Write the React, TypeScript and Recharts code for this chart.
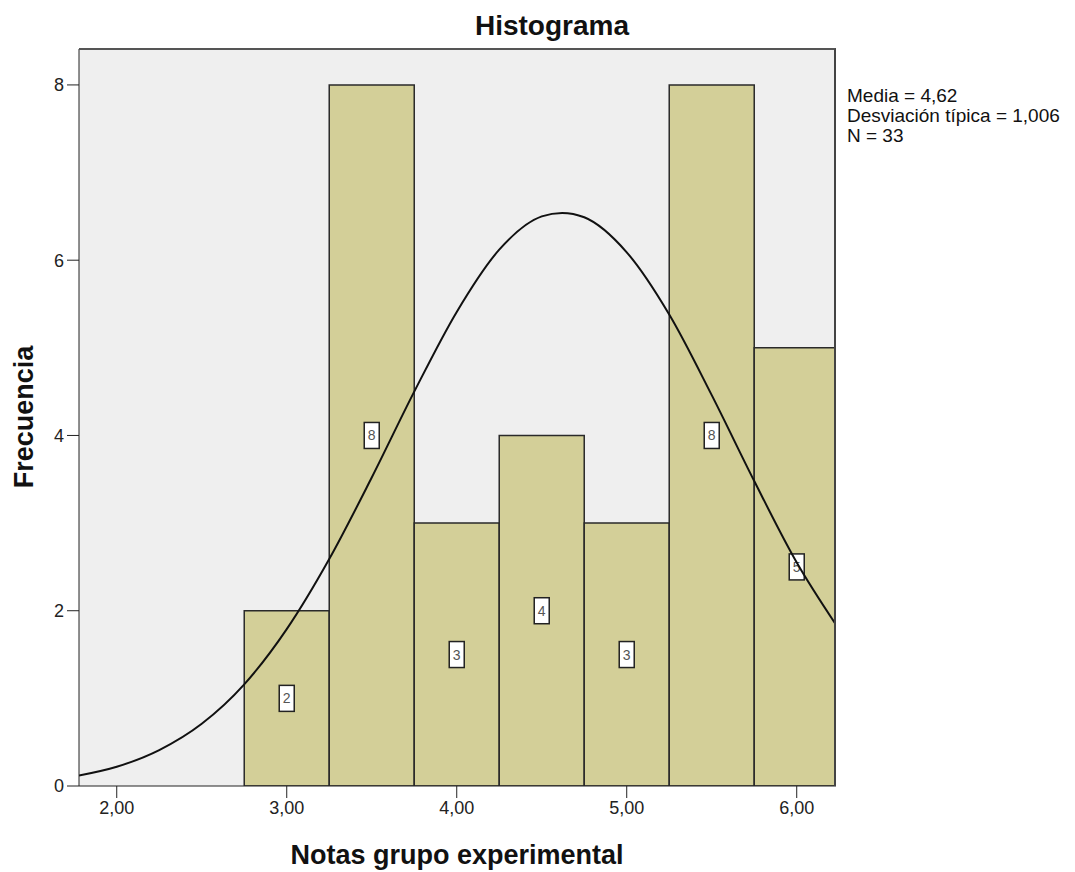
import { ComposedChart, XAxis, YAxis, CartesianGrid, Line, ReferenceArea } from "recharts";

// histogram bins (lower edge, upper edge, count)
const binStarts = [2.75, 3.25, 3.75, 4.25, 4.75, 5.25, 5.75];
const binEnds = [3.25, 3.75, 4.25, 4.75, 5.25, 5.75, 6.25];
const counts = [2, 8, 3, 4, 3, 8, 5];

// normal curve
const curveX = [1.778, 2.0, 2.25, 2.5, 2.75, 3.0, 3.25, 3.5, 3.75, 4.0, 4.25, 4.5, 4.62, 4.75, 5.0, 5.25, 5.5, 5.75, 6.0, 6.231];
const curveY = [0.12, 0.22, 0.41, 0.71, 1.16, 1.79, 2.59, 3.52, 4.5, 5.41, 6.12, 6.5, 6.54, 6.49, 6.09, 5.38, 4.46, 3.48, 2.55, 1.84];

const xTicks = [2, 3, 4, 5, 6];
const yTicks = [0, 2, 4, 6, 8];
const xDomain = [1.778, 6.231];
const yDomain = [0, 8.41];

const statLines = ["Media = 4,62", "Desviación típica = 1,006", "N = 33"];

const curveData = curveX.map((x, i) => ({ x, y: curveY[i] }));

const FONT = "'Liberation Sans', Arial, sans-serif";

const CountBox = (props: any) => {
  const { viewBox, value } = props;
  if (!viewBox) return null;
  const cx = viewBox.x + viewBox.width / 2;
  const cy = viewBox.y + viewBox.height / 2;
  return (
    <g>
      <rect x={cx - 7.5} y={cy - 13} width={15} height={26} fill="#fff" stroke="#222" strokeWidth={1.5} />
      <text x={cx} y={cy + 5} textAnchor="middle" fontSize={14} fill="#555" fontFamily={FONT}>
        {value}
      </text>
    </g>
  );
};

export default function App() {
  return (
    <div style={{ position: "absolute", left: 0, top: 0, width: 1075, height: 872, background: "#fff", fontFamily: FONT }}>
      <div style={{ position: "absolute", left: 402, width: 300, top: 9, textAlign: "center", fontSize: 28, lineHeight: "34px", fontWeight: "bold", color: "#111" }}>
        Histograma
      </div>
      <div style={{ position: "absolute", left: 847, top: 86, fontSize: 19, lineHeight: "20px", color: "#111", whiteSpace: "nowrap" }}>
        {statLines.map((s) => (
          <div key={s}>{s}</div>
        ))}
      </div>
      <div
        style={{
          position: "absolute",
          left: 24,
          top: 417,
          transform: "translate(-50%, -50%) rotate(-90deg)",
          fontSize: 27,
          fontWeight: "bold",
          whiteSpace: "nowrap",
          color: "#111",
        }}
      >
        Frecuencia
      </div>
      <div style={{ position: "absolute", left: 207, width: 500, top: 838, textAlign: "center", fontSize: 27, lineHeight: "34px", fontWeight: "bold", color: "#111" }}>
        Notas grupo experimental
      </div>
      <ComposedChart width={1075} height={872} data={curveData} margin={{ top: 49, right: 239, bottom: 56, left: 19 }}>
        <CartesianGrid horizontal={false} vertical={false} fill="#efefef" xAxisId="main" yAxisId="main" />
        <XAxis
          xAxisId="main"
          dataKey="x"
          type="number"
          domain={xDomain}
          ticks={xTicks}
          allowDataOverflow
          tickFormatter={(v: number) => v.toFixed(2).replace(".", ",")}
          tick={{ fontSize: 18, fill: "#222", fontFamily: FONT }}
          tickSize={12}
          tickMargin={3}
          stroke="#222"
          height={30}
        />
        <YAxis
          yAxisId="main"
          type="number"
          domain={yDomain}
          ticks={yTicks}
          allowDataOverflow
          tick={{ fontSize: 18, fill: "#222", fontFamily: FONT }}
          tickSize={12}
          tickMargin={3}
          stroke="#222"
          width={60}
        />
        {counts.map((c, i) => (
          <ReferenceArea
            key={i}
            xAxisId="main"
            yAxisId="main"
            x1={binStarts[i]}
            x2={binEnds[i]}
            y1={0}
            y2={c}
            ifOverflow="hidden"
            fill="#d3cf98"
            fillOpacity={1}
            stroke="#2a2a2a"
            strokeWidth={1.5}
            label={<CountBox value={c} />}
          />
        ))}
        <Line
          xAxisId="main"
          yAxisId="main"
          dataKey="y"
          type="monotone"
          stroke="#111"
          strokeWidth={2}
          dot={false}
          isAnimationActive={false}
        />
      </ComposedChart>
      {/* plot frame */}
      <div
        style={{
          position: "absolute",
          left: 79,
          top: 48,
          width: 757,
          height: 738,
          boxSizing: "border-box",
          borderTop: "2px solid #555",
          borderRight: "2px solid #444",
          pointerEvents: "none",
        }}
      />
    </div>
  );
}
